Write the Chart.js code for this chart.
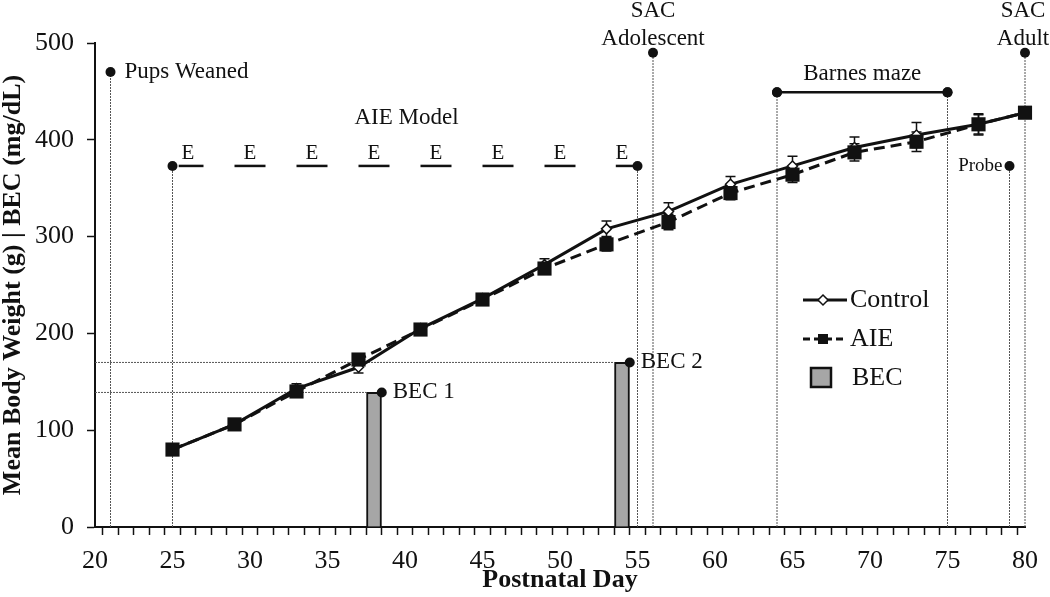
<!DOCTYPE html>
<html>
<head>
<meta charset="utf-8">
<script src="https://cdn.jsdelivr.net/npm/chart.js@4/dist/chart.umd.min.js"></script>
<style>
  html, body { margin: 0; padding: 0; background: #fff; }
  #wrap { width: 1050px; height: 597px; }
</style>
</head>
<body>
<div id="wrap"><canvas id="myChart" width="1050" height="597"></canvas></div>
<script>
// postnatal days where body weight was measured
const days = [25, 29, 33, 37, 41, 45, 49, 53, 57, 61, 65, 69, 73, 77, 80];
const controlWeight = [80, 106, 143, 165, 205, 236, 271, 308, 326, 354, 373, 392, 405, 416, 428];
const controlErr = [3, 4, 5, 6, 5, 5, 6, 8, 9, 8, 10, 11, 13, 10, 4];
const aieWeight = [80, 106, 140, 173, 204, 235, 267, 292, 315, 345, 364, 387, 398, 416, 428];
const aieErr = [3, 4, 4, 5, 4, 5, 5, 7, 8, 7, 8, 9, 10, 11, 4];

// blood ethanol concentration
const becDays = [38, 54];
const becValues = [139, 170];
const becLabels = ['BEC 1', 'BEC 2'];

// event markers (vertical dotted lines with a dot on top)
const markerDays = [21, 25, 55, 56, 64, 75, 79, 80];
const markerTops = [470, 373, 373, 490, 449, 449, 373, 490];

// ethanol exposure days
const eDays = [26, 30, 34, 38, 42, 46, 50, 54];
const eLevel = 373;
const barnesDays = [64, 75];
const barnesLevel = 449;

const xTicks = [20, 25, 30, 35, 40, 45, 50, 55, 60, 65, 70, 75, 80];
const yTicks = [0, 100, 200, 300, 400, 500];

const serif = "'Liberation Serif', 'Times New Roman', serif";
const ink = '#111';
const dotted = '#555';

let datasets = [];

datasets.push({
  label: 'Control',
  data: days.map((d, i) => ({ x: d, y: controlWeight[i] })),
  borderColor: ink,
  borderWidth: 3,
  pointStyle: 'rectRot',
  pointRadius: 5,
  pointBackgroundColor: '#fff',
  pointBorderColor: ink,
  pointBorderWidth: 1.5,
  tension: 0,
  clip: false,
  order: 1
});

datasets.push({
  label: 'AIE',
  data: days.map((d, i) => ({ x: d, y: aieWeight[i] })),
  borderColor: ink,
  borderWidth: 3,
  borderDash: [11, 6],
  pointStyle: 'rect',
  pointRadius: 10,
  pointBackgroundColor: ink,
  pointBorderColor: ink,
  pointBorderWidth: 0,
  tension: 0,
  clip: false,
  order: 0
});

datasets.push({
  type: 'bar',
  label: 'BEC',
  data: becDays.map((d, i) => ({ x: d, y: becValues[i] })),
  backgroundColor: '#a6a6a6',
  borderColor: ink,
  borderWidth: 2,
  barThickness: 15,
  order: 10
});

// dotted guide lines from the y axis to the top of each BEC bar
becDays.forEach((d, i) => {
  datasets.push({
    label: 'guide',
    data: [{ x: 20, y: becValues[i] }, { x: d - 0.5, y: becValues[i] }, { x: d + 0.5, y: becValues[i] }],
    borderColor: dotted,
    borderWidth: 1,
    borderDash: [2, 1],
    segment: { borderColor: ctx => ctx.p0DataIndex === 1 ? 'rgba(0,0,0,0)' : dotted },
    pointRadius: [0, 0, 5],
    pointBackgroundColor: ink,
    pointBorderWidth: 0,
    clip: false,
    order: 5
  });
});

markerDays.forEach((d, i) => {
  datasets.push({
    label: 'marker',
    data: [{ x: d, y: 0 }, { x: d, y: markerTops[i] }],
    borderColor: dotted,
    borderWidth: 1,
    borderDash: [2, 1],
    pointRadius: [0, 5],
    pointBackgroundColor: ink,
    pointBorderWidth: 0,
    clip: false,
    order: 20
  });
});

eDays.forEach((d, i) => {
  let a = Math.max(d - 1, 25.4), b = Math.min(d + 1, 55);
  if (i === eDays.length - 1) a = 53.6;
  datasets.push({
    label: 'E',
    data: [{ x: a, y: eLevel }, { x: b, y: eLevel }],
    borderColor: ink,
    borderWidth: 2.5,
    pointRadius: 0,
    order: 6
  });
});

datasets.push({
  label: 'barnes',
  data: barnesDays.map(d => ({ x: d, y: barnesLevel })),
  borderColor: ink,
  borderWidth: 2.5,
  pointRadius: 5,
  pointBackgroundColor: ink,
  pointBorderWidth: 0,
  clip: false,
  order: 6
});

function errorBars(chart, xs, ys, errs) {
  const ctx = chart.ctx, sx = chart.scales.x, sy = chart.scales.y;
  ctx.save();
  ctx.strokeStyle = ink;
  ctx.lineWidth = 1.5;
  xs.forEach((d, i) => {
    const px = sx.getPixelForValue(d);
    const top = sy.getPixelForValue(ys[i] + errs[i]);
    const bot = sy.getPixelForValue(ys[i] - errs[i]);
    ctx.beginPath();
    ctx.moveTo(px, top); ctx.lineTo(px, bot);
    ctx.moveTo(px - 5, top); ctx.lineTo(px + 5, top);
    ctx.moveTo(px - 5, bot); ctx.lineTo(px + 5, bot);
    ctx.stroke();
  });
  ctx.restore();
}

function text(chart, str, x, y, opts) {
  const ctx = chart.ctx, sx = chart.scales.x, sy = chart.scales.y;
  ctx.save();
  ctx.fillStyle = ink;
  ctx.font = (opts.size || 23) + 'px ' + serif;
  ctx.textAlign = opts.align || 'center';
  ctx.textBaseline = opts.baseline || 'alphabetic';
  ctx.fillText(str, sx.getPixelForValue(x) + (opts.dx || 0), sy.getPixelForValue(y));
  ctx.restore();
}

const overlay = {
  id: 'overlay',
  beforeDatasetsDraw(chart) {
    errorBars(chart, days, controlWeight, controlErr);
    errorBars(chart, days, aieWeight, aieErr);
  },
  afterDraw(chart) {
    text(chart, 'Pups Weaned', markerDays[0], 464, { align: 'left', dx: 14 });
    text(chart, 'AIE Model', 40.1, 416, {});
    eDays.forEach(d => text(chart, 'E', d, 380, { size: 21 }));
    text(chart, 'SAC', 56, 527, {});
    text(chart, 'Adolescent', 56, 498, {});
    text(chart, 'SAC', 80, 527, { dx: -2 });
    text(chart, 'Adult', 80, 498, { dx: -2 });
    text(chart, 'Barnes maze', 69.5, 462, {});
    text(chart, 'Probe', 79, 373, { size: 19, align: 'right', baseline: 'middle', dx: -7 });
    becDays.forEach((d, i) => text(chart, becLabels[i], d + 0.5, becValues[i], { align: 'left', baseline: 'middle', dx: 11 }));

    // legend inside the plot
    const ctx = chart.ctx;
    ctx.save();
    ctx.strokeStyle = ink;
    ctx.fillStyle = ink;
    ctx.lineWidth = 3;
    ctx.beginPath(); ctx.moveTo(803, 300); ctx.lineTo(847, 300); ctx.stroke();
    ctx.fillStyle = '#fff'; ctx.lineWidth = 1.5;
    ctx.beginPath(); ctx.moveTo(823, 295); ctx.lineTo(828, 300); ctx.lineTo(823, 305); ctx.lineTo(818, 300); ctx.closePath();
    ctx.fill(); ctx.stroke();
    ctx.lineWidth = 3;
    ctx.setLineDash([7, 4]);
    ctx.beginPath(); ctx.moveTo(803, 339); ctx.lineTo(843, 339); ctx.stroke();
    ctx.setLineDash([]);
    ctx.fillStyle = ink;
    ctx.fillRect(818, 334, 10, 10);
    ctx.fillStyle = '#a6a6a6';
    ctx.fillRect(811, 368, 20, 19);
    ctx.lineWidth = 2.5;
    ctx.strokeRect(811, 368, 20, 19);
    ctx.fillStyle = ink;
    ctx.font = '26px ' + serif;
    ctx.textBaseline = 'middle';
    ctx.textAlign = 'left';
    ctx.fillText('Control', 850, 300);
    ctx.fillText('AIE', 850, 339);
    ctx.fillText('BEC', 852, 378);
    ctx.restore();
  }
};

const myChart = new Chart(document.getElementById('myChart').getContext('2d'), {
  type: 'line',
  data: { datasets: datasets },
  plugins: [overlay],
  options: {
    responsive: false,
    animation: false,
    devicePixelRatio: 1,
    layout: { padding: { top: 43, right: 25, left: 0, bottom: 0 } },
    plugins: { legend: { display: false }, tooltip: { enabled: false } },
    scales: {
      x: {
        type: 'linear',
        min: 20,
        max: 80,
        offset: false,
        afterFit: s => { s.height = 70; },
        afterBuildTicks: s => { s.ticks = Array.from({ length: 61 }, (_, i) => ({ value: 20 + i })); },
        ticks: {
          autoSkip: false,
          maxRotation: 0,
          padding: 11,
          color: ink,
          font: { family: serif, size: 26 },
          callback: v => xTicks.includes(v) ? String(v) : ''
        },
        grid: { drawOnChartArea: false, tickLength: 8, tickColor: ink, tickWidth: 1.5 },
        border: { color: ink, width: 2 },
        title: {
          display: true,
          text: 'Postnatal Day',
          color: ink,
          font: { family: serif, size: 26, weight: 'bold', lineHeight: 1 },
          padding: { top: 0, bottom: 4 }
        }
      },
      y: {
        min: 0,
        max: 500,
        afterFit: s => { s.width = 95; },
        afterBuildTicks: s => { s.ticks = yTicks.map(v => ({ value: v })); },
        ticks: { padding: 13, color: ink, font: { family: serif, size: 26 } },
        grid: { drawOnChartArea: false, tickLength: 8, tickColor: ink, tickWidth: 1.5 },
        border: { color: ink, width: 2 },
        title: {
          display: true,
          text: 'Mean Body Weight (g) | BEC (mg/dL)',
          color: ink,
          font: { family: serif, size: 26, weight: 'bold', lineHeight: 1 },
          padding: 0
        }
      }
    }
  }
});
</script>
</body>
</html>
